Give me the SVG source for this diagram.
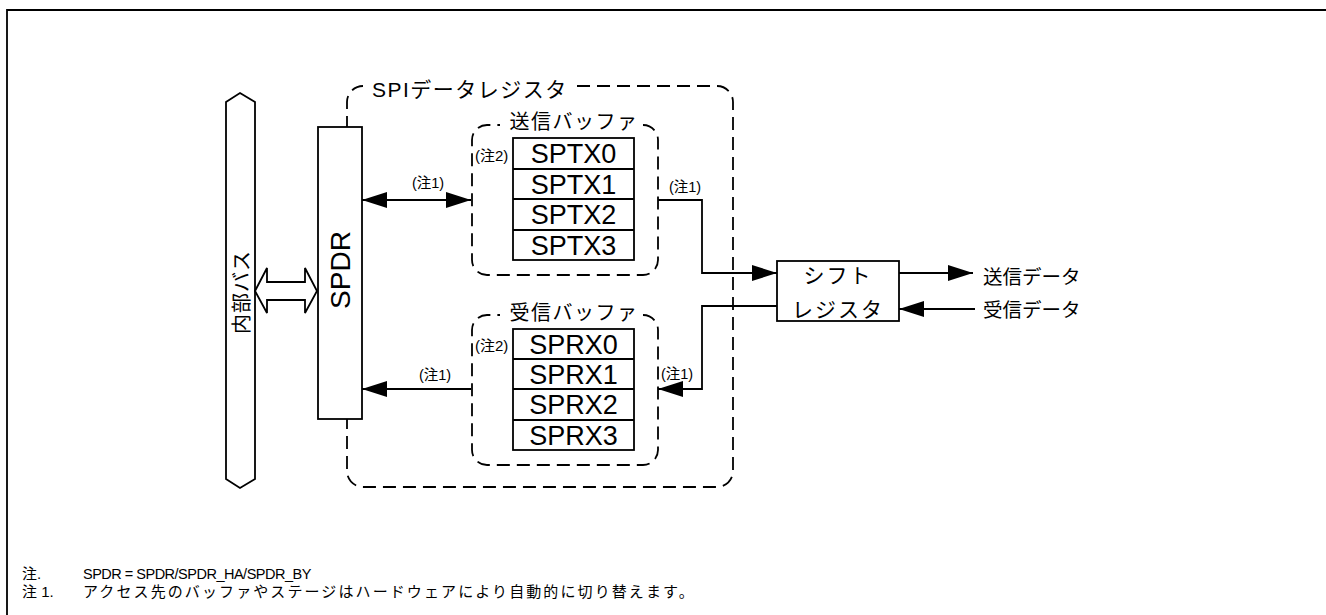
<svg xmlns="http://www.w3.org/2000/svg" width="1326" height="615" viewBox="0 0 1326 615">
<style>
.t { font-family: "Liberation Sans", "Noto Sans CJK JP", sans-serif; fill: #000; }
.box { fill: #fff; stroke: #000; stroke-width: 1.8; }
.dash { fill: none; stroke: #000; stroke-width: 1.8; stroke-dasharray: 13 7; }
.ln { fill: none; stroke: #000; stroke-width: 1.8; }
</style>
<defs>
<marker id="ah" viewBox="0 0 25 16" refX="25" refY="8" markerWidth="25" markerHeight="16" markerUnits="userSpaceOnUse" orient="auto-start-reverse">
<path d="M0,0 L25,8 L0,16 Z" fill="#000"/>
</marker>
</defs>
<rect width="1326" height="615" fill="#fff"/>
<path d="M7,615 V10 H1326" class="ln"/>

<g id="spi-data-register">
<path class="dash" d="M577,86 H717 A16,16 0 0 1 733,102 V471 A16,16 0 0 1 717,487 H363 A16,16 0 0 1 347,471 V102 A16,16 0 0 1 363,86"/>
<text class="t" x="372" y="97" font-size="21" letter-spacing="1.5">SPIデータレジスタ</text>
</g>

<g id="internal-bus">
<polygon class="box" points="240,93 255,102 255,479 240,488 226,479 226,102"/>
<text class="t" transform="translate(249,292) rotate(-90)" text-anchor="middle" font-size="20" letter-spacing="1">内部バス</text>
</g>

<g id="bus-link">
<polygon class="box" points="255,291 267,268 267,282 305,282 305,268 317,291 305,313 305,300 267,300 267,313"/>
</g>

<g id="spdr">
<rect class="box" x="318" y="127" width="44" height="292"/>
<text class="t" transform="translate(350,270) rotate(-90)" text-anchor="middle" font-size="28">SPDR</text>
</g>

<g id="tx-buffer">
<path class="dash" d="M643,125 A15,15 0 0 1 658,140 V260 A15,15 0 0 1 643,275 H487 A15,15 0 0 1 472,260 V140 A15,15 0 0 1 487,125 H500"/>
<text class="t" x="574" y="129" font-size="20" letter-spacing="1.5" text-anchor="middle">送信バッファ</text>
<text class="t" x="475" y="161" font-size="15">(注2)</text>
<rect class="box" x="513" y="138" width="121" height="122"/>
<path class="ln" d="M513,169 H634 M513,199 H634 M513,230 H634"/>
<text class="t" x="573.5" y="163" font-size="27" text-anchor="middle">SPTX0</text>
<text class="t" x="573.5" y="193.5" font-size="27" text-anchor="middle">SPTX1</text>
<text class="t" x="573.5" y="224" font-size="27" text-anchor="middle">SPTX2</text>
<text class="t" x="573.5" y="254.5" font-size="27" text-anchor="middle">SPTX3</text>
</g>

<g id="rx-buffer">
<path class="dash" d="M643,315 A15,15 0 0 1 658,330 V450 A15,15 0 0 1 643,465 H487 A15,15 0 0 1 472,450 V330 A15,15 0 0 1 487,315 H500"/>
<text class="t" x="574" y="320" font-size="20" letter-spacing="1.5" text-anchor="middle">受信バッファ</text>
<text class="t" x="475" y="351" font-size="15">(注2)</text>
<rect class="box" x="513" y="329" width="121" height="121"/>
<path class="ln" d="M513,359 H634 M513,389 H634 M513,420 H634"/>
<text class="t" x="573.5" y="353.5" font-size="27" text-anchor="middle">SPRX0</text>
<text class="t" x="573.5" y="383.5" font-size="27" text-anchor="middle">SPRX1</text>
<text class="t" x="573.5" y="414" font-size="27" text-anchor="middle">SPRX2</text>
<text class="t" x="573.5" y="444.5" font-size="27" text-anchor="middle">SPRX3</text>
</g>

<g id="shift-register">
<rect class="box" x="777" y="261" width="122" height="60"/>
<text class="t" x="838" y="283" font-size="21" letter-spacing="2" text-anchor="middle">シフト</text>
<text class="t" x="838" y="317" font-size="21" letter-spacing="2" text-anchor="middle">レジスタ</text>
</g>

<g id="tx-data">
<text class="t" x="983" y="284" font-size="19.5">送信データ</text>
</g>
<g id="rx-data">
<text class="t" x="983" y="317" font-size="19.5">受信データ</text>
</g>

<g id="connectors">
<path class="ln" d="M362,200 H471" marker-start="url(#ah)" marker-end="url(#ah)"/>
<path class="ln" d="M658,200 H702 V273 H777" marker-end="url(#ah)"/>
<path class="ln" d="M899,273 H973" marker-end="url(#ah)"/>
<path class="ln" d="M975,309 H899" marker-end="url(#ah)"/>
<path class="ln" d="M777,306 H702 V389 H658" marker-end="url(#ah)"/>
<path class="ln" d="M471,389 H362" marker-end="url(#ah)"/>
<text class="t" x="428" y="188" font-size="14.5" text-anchor="middle">(注1)</text>
<text class="t" x="685" y="192" font-size="14.5" text-anchor="middle">(注1)</text>
<text class="t" x="435" y="380" font-size="14.5" text-anchor="middle">(注1)</text>
<text class="t" x="677" y="379" font-size="14.5" text-anchor="middle">(注1)</text>
</g>

<g id="notes">
<text class="t" x="22" y="579" font-size="15">注.</text>
<text class="t" x="83" y="579" font-size="14.5" letter-spacing="-0.5">SPDR = SPDR/SPDR_HA/SPDR_BY</text>
<text class="t" x="22" y="597" font-size="15">注 1.</text>
<text class="t" x="83" y="597" font-size="15" letter-spacing="2.1">アクセス先のバッファやステージはハードウェアにより自動的に切り替えます。</text>
</g>
</svg>
